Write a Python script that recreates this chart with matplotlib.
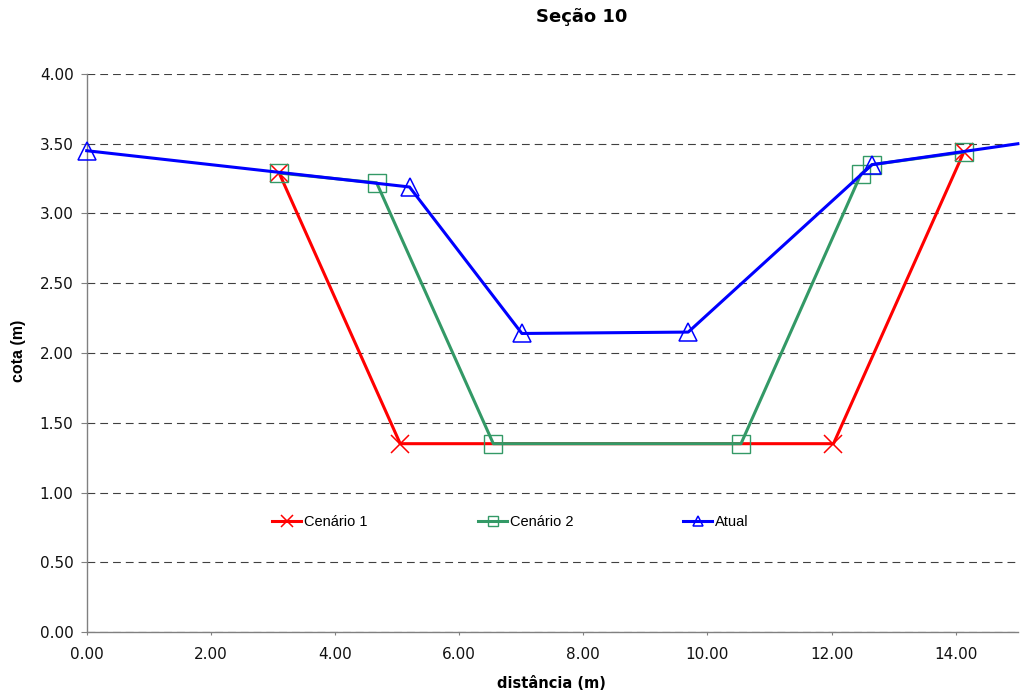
import matplotlib.pyplot as plt
from matplotlib.ticker import MultipleLocator, FormatStrFormatter

plt.rcParams['font.family'] = ['DejaVu Sans']

# cross-section data (distância x cota)
x_c1 = [3.10, 5.05, 12.03, 14.13]
y_c1 = [3.29, 1.35, 1.35, 3.44]

x_c2 = [3.10, 4.67, 6.55, 10.54, 12.47, 12.65, 14.13]
y_c2 = [3.29, 3.22, 1.35, 1.35, 3.28, 3.35, 3.44]

x_atual = [0.00, 5.20, 7.01, 9.69, 12.65, 15.00]
y_atual = [3.45, 3.19, 2.14, 2.15, 3.35, 3.50]

labels = ['Cenário 1', 'Cenário 2', 'Atual']

fig = plt.figure(figsize=(10.24, 6.94), dpi=100)
ax = fig.add_axes([0.0847, 0.0893, 0.9093, 0.8041])

l1, = ax.plot(x_c1, y_c1, color='#ff0000', lw=2.2, marker='x', ms=13.5,
              mew=1.1, label=labels[0], clip_on=False, zorder=3)
l2, = ax.plot(x_c2, y_c2, color='#339966', lw=2.2, marker='s', ms=12.5,
              mfc='none', mew=1.0, label=labels[1], clip_on=False, zorder=4)
l3, = ax.plot(x_atual, y_atual, color='#0000ff', lw=2.2, marker='^', ms=13,
              mfc='none', mew=1.1, label=labels[2], clip_on=False, zorder=5)
# the line runs to the axis edge, end point has no marker in the original
l3.set_markevery(list(range(len(x_atual) - 1)))

ax.set_xlim(0, 15)
ax.set_ylim(0, 4)
ax.xaxis.set_major_locator(MultipleLocator(2))
ax.yaxis.set_major_locator(MultipleLocator(0.5))
ax.xaxis.set_major_formatter(FormatStrFormatter('%.2f'))
ax.yaxis.set_major_formatter(FormatStrFormatter('%.2f'))

ax.yaxis.grid(True, color='#404040', lw=0.8, linestyle=(0, (7, 4.5)))
ax.set_axisbelow(True)

for s in ['top', 'right']:
    ax.spines[s].set_visible(False)
for s in ['left', 'bottom']:
    ax.spines[s].set_color('#808080')
    ax.spines[s].set_linewidth(1.0)

ax.tick_params(axis='both', colors='#808080', labelcolor='#111111',
               labelsize=11, direction='out')
ax.tick_params(axis='y', length=4.5, pad=5)
ax.tick_params(axis='x', length=2.5, pad=8)

fig.text(0.568, 1 - 17 / 694, 'Seção 10', ha='center', va='center',
         fontsize=13, fontweight='bold')
fig.text(0.539, 1 - 683 / 694, 'distância (m)', ha='center', va='center',
         fontsize=10.5, fontweight='bold')
fig.text(18 / 1024, 1 - 351 / 694, 'cota (m)', ha='center', va='center',
         rotation=90, fontsize=11.5, fontweight='bold',
         family=['Liberation Sans', 'DejaVu Sans'])

# legend entries spread across the plot, one per series
for line, xpix in zip([l1, l2, l3], [272, 478, 683]):
    leg = fig.legend(handles=[line], loc='center left',
                     bbox_to_anchor=(xpix / 1024, 1 - 522 / 694),
                     frameon=False, handlelength=2.0,
                     handletextpad=0.2, borderpad=0, borderaxespad=0,
                     markerscale=0.6,
                     prop={'family': ['Liberation Sans'], 'size': 10.5})

fig.savefig('out.png', dpi=100)
